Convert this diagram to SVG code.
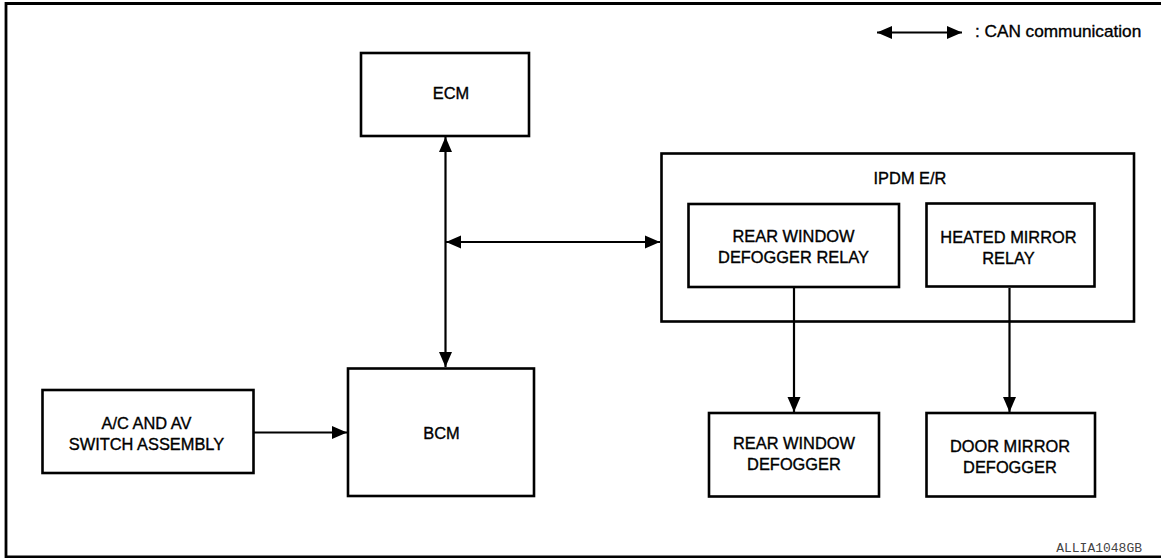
<svg xmlns="http://www.w3.org/2000/svg" width="1161" height="558" viewBox="0 0 1161 558">
<style>
.box{fill:#fff;stroke:#000;stroke-width:2.6}
.t{font-family:"Liberation Sans",Arial,sans-serif;font-size:16.4px;fill:#000;stroke:#000;stroke-width:0.35;text-anchor:middle}
.ln{stroke:#000;stroke-width:2.2;fill:none}
</style>
<defs>
<marker id="ah" markerUnits="userSpaceOnUse" markerWidth="16" markerHeight="14" refX="15" refY="7" orient="auto-start-reverse" viewBox="0 0 16 14">
<path d="M0,0.5 L15,7 L0,13.5 Z" fill="#000"/>
</marker>
</defs>
<rect x="0" y="0" width="1161" height="558" fill="#fff"/>
<path d="M1161,3.5 H6 V556.8 H1161" fill="none" stroke="#000" stroke-width="2.8"/>
<g id="legend">
<line class="ln" x1="877" y1="32.5" x2="962" y2="32.5" marker-start="url(#ah)" marker-end="url(#ah)"/>
<text x="975" y="37" style="font-family:'Liberation Sans',Arial,sans-serif;font-size:17.2px;fill:#000;stroke:#000;stroke-width:0.35">: CAN communication</text>
</g>
<g id="ecm">
<rect class="box" x="361" y="53" width="168" height="83"/>
<text class="t" x="451" y="98.5">ECM</text>
</g>
<g id="ipdm">
<rect class="box" x="661.5" y="153.5" width="472.5" height="168"/>
<text class="t" x="910" y="184">IPDM E/R</text>
</g>
<g id="rwdr">
<rect class="box" x="688.5" y="204" width="210.5" height="83"/>
<text class="t" x="793.5" y="241.5">REAR WINDOW</text>
<text class="t" x="793.5" y="263">DEFOGGER RELAY</text>
</g>
<g id="hmr">
<rect class="box" x="926.5" y="203.5" width="168" height="83"/>
<text class="t" x="1008.5" y="243">HEATED MIRROR</text>
<text class="t" x="1008.5" y="264">RELAY</text>
</g>
<g id="acav">
<rect class="box" x="42.5" y="390" width="211" height="83"/>
<text class="t" x="146.5" y="428.5">A/C AND AV</text>
<text class="t" x="146.5" y="449.5">SWITCH ASSEMBLY</text>
</g>
<g id="bcm">
<rect class="box" x="348" y="368.5" width="186" height="127.5"/>
<text class="t" x="441.5" y="439">BCM</text>
</g>
<g id="rwd">
<rect class="box" x="709" y="413" width="170" height="83.5"/>
<text class="t" x="794" y="448.5">REAR WINDOW</text>
<text class="t" x="794" y="469.5">DEFOGGER</text>
</g>
<g id="dmd">
<rect class="box" x="926.5" y="413" width="168.5" height="83.5"/>
<text class="t" x="1010" y="451.5">DOOR MIRROR</text>
<text class="t" x="1010" y="472.5">DEFOGGER</text>
</g>
<g id="connectors">
<line class="ln" x1="445.5" y1="137" x2="445.5" y2="367" marker-start="url(#ah)" marker-end="url(#ah)"/>
<line class="ln" x1="446" y1="242" x2="660" y2="242" marker-start="url(#ah)" marker-end="url(#ah)"/>
<line class="ln" x1="254" y1="432.5" x2="347" y2="432.5" marker-end="url(#ah)"/>
<line class="ln" x1="794" y1="288" x2="794" y2="412" marker-end="url(#ah)"/>
<line class="ln" x1="1009.5" y1="288" x2="1009.5" y2="412" marker-end="url(#ah)"/>
</g>
<text x="1142" y="552" style="font-family:'Liberation Mono','Courier New',monospace;font-size:13px;fill:#444;text-anchor:end">ALLIA1048GB</text>
</svg>
